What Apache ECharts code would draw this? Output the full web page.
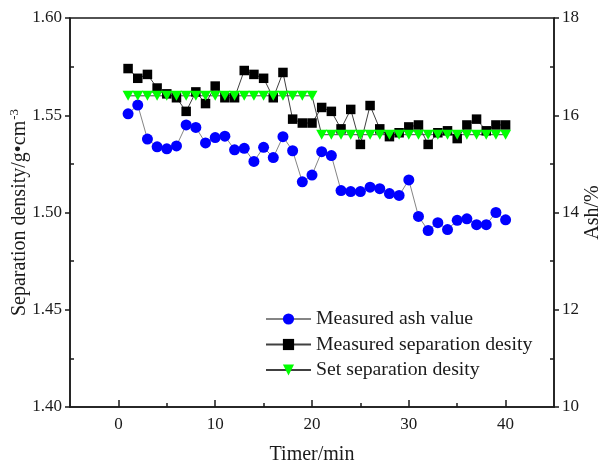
<!DOCTYPE html>
<html>
<head>
<meta charset="utf-8">
<script src="https://cdn.jsdelivr.net/npm/echarts@6/dist/echarts.min.js"></script>
<style>
  html, body { margin: 0; padding: 0; background: #fff; }
  #chart { width: 604px; height: 464px; }
</style>
</head>
<body>
<div id="chart"></div>
<script>
// Sampling times (min)
const times = [1, 2, 3, 4, 5, 6, 7, 8, 9, 10, 11, 12, 13, 14, 15, 16, 17, 18, 19, 20,
               21, 22, 23, 24, 25, 26, 27, 28, 29, 30, 31, 32, 33, 34, 35, 36, 37, 38, 39, 40];

// Measured ash (%) – right axis
const ashValues = [16.03, 16.21, 15.51, 15.35, 15.31, 15.37, 15.80, 15.75, 15.43, 15.54,
                   15.57, 15.29, 15.32, 15.05, 15.34, 15.13, 15.56, 15.27, 14.63, 14.77,
                   15.25, 15.17, 14.45, 14.43, 14.43, 14.52, 14.49, 14.39, 14.35, 14.67,
                   13.92, 13.63, 13.79, 13.65, 13.84, 13.87, 13.75, 13.75, 14.00, 13.85];

// Measured separation density (g/cm3) – left axis
const measuredDensity = [1.574, 1.569, 1.571, 1.564, 1.561, 1.559, 1.552, 1.562, 1.556, 1.565,
                         1.559, 1.559, 1.573, 1.571, 1.569, 1.559, 1.572, 1.548, 1.546, 1.546,
                         1.554, 1.552, 1.543, 1.553, 1.535, 1.555, 1.543, 1.539, 1.541, 1.544,
                         1.545, 1.535, 1.541, 1.542, 1.538, 1.545, 1.548, 1.542, 1.545, 1.545];

// Set separation density (g/cm3) – left axis
const setDensity = [1.56, 1.56, 1.56, 1.56, 1.56, 1.56, 1.56, 1.56, 1.56, 1.56,
                    1.56, 1.56, 1.56, 1.56, 1.56, 1.56, 1.56, 1.56, 1.56, 1.56,
                    1.54, 1.54, 1.54, 1.54, 1.54, 1.54, 1.54, 1.54, 1.54, 1.54,
                    1.54, 1.54, 1.54, 1.54, 1.54, 1.54, 1.54, 1.54, 1.54, 1.54];

// Axis tick positions
const xMajorTicks = [0, 10, 20, 30, 40];
const xMinorTicks = [5, 15, 25, 35];
const leftMinorTicks = [1.425, 1.475, 1.525, 1.575];
const rightMinorTicks = [11, 13, 15, 17];

const FONT = '"Liberation Serif", "Times New Roman", serif';
const INK = '#1a1a1a';

const pairs = (ys) => times.map((t, i) => [t, ys[i]]);

const chart = echarts.init(document.getElementById('chart'), null, { renderer: 'canvas' });

chart.setOption({
  animation: false,
  backgroundColor: '#ffffff',
  textStyle: { fontFamily: FONT },
  grid: {
    left: 70, right: 50, top: 18, bottom: 57,
    containLabel: false, outerBoundsMode: 'none',
    show: true, borderColor: INK, borderWidth: 1.5, backgroundColor: 'transparent'
  },
  legend: {
    orient: 'vertical',
    left: 260, top: 304,
    itemWidth: 45, itemHeight: 14, itemGap: 5.5,
    selectedMode: false,
    textStyle: { fontFamily: FONT, fontSize: 19.8, color: INK, lineHeight: 20 },
    data: ['Measured ash value', 'Measured separation desity', 'Set separation desity']
  },
  xAxis: [
    {
      type: 'value', min: -5, max: 45, interval: 5,
      name: 'Timer/min', nameLocation: 'middle', nameGap: 38, nameMoveOverlap: false,
      nameTextStyle: { fontFamily: FONT, fontSize: 20, color: INK },
      axisLine: { show: true, onZero: false, lineStyle: { color: INK, width: 1.5 } },
      axisTick: { show: true, inside: true, length: 7, customValues: xMajorTicks,
                  lineStyle: { color: INK, width: 1.5 } },
      axisLabel: { customValues: xMajorTicks, margin: 9, fontFamily: FONT, fontSize: 17, color: INK },
      splitLine: { show: false }
    },
    {
      type: 'value', min: -5, max: 45, interval: 5, position: 'bottom',
      axisLine: { show: false, onZero: false },
      axisTick: { show: true, inside: true, length: 4, customValues: xMinorTicks,
                  lineStyle: { color: INK, width: 1.5 } },
      axisLabel: { show: false },
      splitLine: { show: false }
    }
  ],
  yAxis: [
    {
      type: 'value', position: 'left', min: 1.40, max: 1.60, interval: 0.05,
      name: 'Separation density/g•cm{sup|-3}', nameLocation: 'middle', nameGap: 38, nameRotate: 90,
      nameMoveOverlap: false,
      nameTextStyle: {
        fontFamily: FONT, fontSize: 20, color: INK,
        rich: { sup: { fontFamily: FONT, fontSize: 13, color: INK, padding: [0, 0, 11, 1] } }
      },
      axisLine: { show: true, onZero: false, lineStyle: { color: INK, width: 1.5 } },
      axisTick: { show: true, inside: false, length: 5, lineStyle: { color: INK, width: 1.5 } },
      axisLabel: { margin: 8, fontFamily: FONT, fontSize: 17, color: INK,
                   formatter: (v) => v.toFixed(2) },
      splitLine: { show: false }
    },
    {
      type: 'value', position: 'right', min: 10, max: 18, interval: 2,
      name: 'Ash/%', nameLocation: 'middle', nameGap: 29, nameRotate: 90, nameMoveOverlap: false,
      nameTextStyle: { fontFamily: FONT, fontSize: 20, color: INK },
      axisLine: { show: true, onZero: false, lineStyle: { color: INK, width: 1.5 } },
      axisTick: { show: true, inside: false, length: 5, lineStyle: { color: INK, width: 1.5 } },
      axisLabel: { margin: 8, fontFamily: FONT, fontSize: 17, color: INK },
      splitLine: { show: false }
    },
    {
      type: 'value', position: 'left', min: 1.40, max: 1.60, interval: 0.05,
      axisLine: { show: false, onZero: false },
      axisTick: { show: true, inside: true, length: 4, customValues: leftMinorTicks,
                  lineStyle: { color: INK, width: 1.5 } },
      axisLabel: { show: false },
      splitLine: { show: false }
    },
    {
      type: 'value', position: 'right', min: 10, max: 18, interval: 2,
      axisLine: { show: false, onZero: false },
      axisTick: { show: true, inside: true, length: 4, customValues: rightMinorTicks,
                  lineStyle: { color: INK, width: 1.5 } },
      axisLabel: { show: false },
      splitLine: { show: false }
    }
  ],
  series: [
    {
      name: 'Measured ash value', type: 'line', xAxisIndex: 0, yAxisIndex: 1,
      data: pairs(ashValues),
      symbol: 'circle', symbolSize: 11,
      itemStyle: { color: '#0000ff' },
      lineStyle: { color: '#858585', width: 1 },
      emphasis: { disabled: true }
    },
    {
      name: 'Measured separation desity', type: 'line', xAxisIndex: 0, yAxisIndex: 0,
      data: pairs(measuredDensity),
      symbol: 'rect', symbolSize: 9.5,
      itemStyle: { color: '#000000' },
      lineStyle: { color: '#404040', width: 1 },
      emphasis: { disabled: true }
    },
    {
      name: 'Set separation desity', type: 'line', xAxisIndex: 0, yAxisIndex: 0,
      data: pairs(setDensity),
      symbol: 'triangle', symbolRotate: 180, symbolSize: [11, 10],
      itemStyle: { color: '#00ff00' },
      lineStyle: { color: '#404040', width: 1 },
      emphasis: { disabled: true }
    }
  ]
});
</script>
</body>
</html>
